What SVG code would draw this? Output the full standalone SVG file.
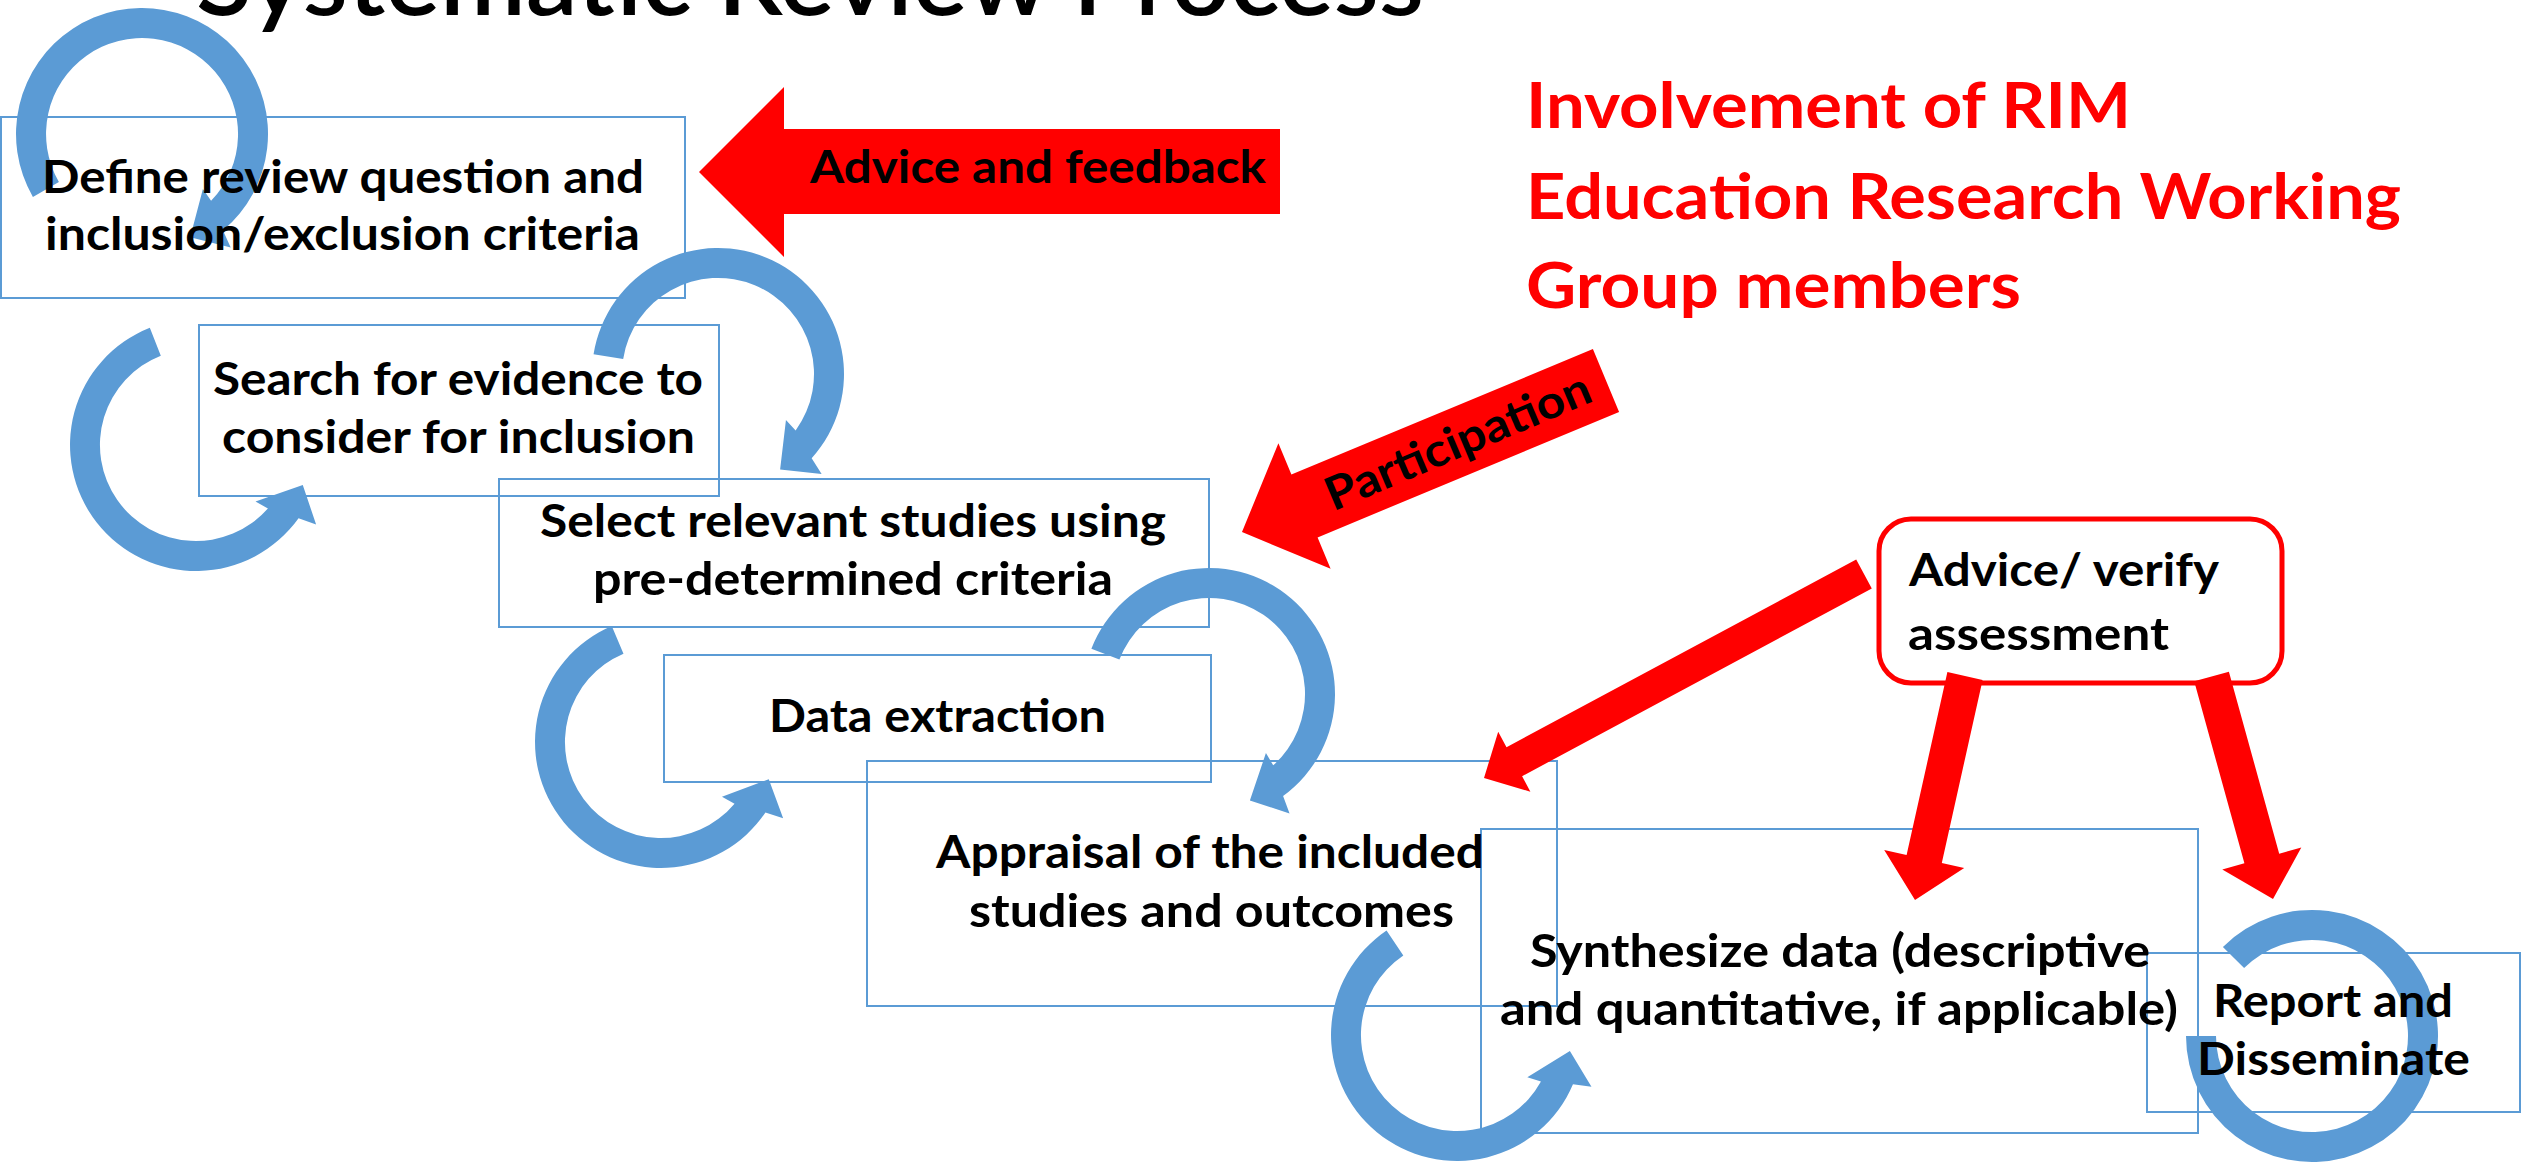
<svg xmlns="http://www.w3.org/2000/svg" width="2526" height="1162" viewBox="0 0 2526 1162">
  <style>
    .box { fill: none; stroke: #5B9BD5; stroke-width: 2; }
    .loop { fill: #5B9BD5; }
    .red { fill: #FF0000; }
    .lbl { font-family: Lato, "Open Sans", "Liberation Sans", sans-serif; font-weight: 700; font-size: 46px; fill: #000; }
    .note { font-family: Lato, "Open Sans", "Liberation Sans", sans-serif; font-weight: 700; font-size: 64px; fill: #FF0000; }
    .title { font-family: Lato, "Open Sans", "Liberation Sans", sans-serif; font-weight: 600; font-size: 100px; fill: #000; }
  </style>
  <defs>
    <!-- circular arrow: ring r 96..126 swept clockwise 210 deg from angle 0, head at the end -->
    <path id="loop" d="M126,0 A126,126 0 1,1 -105.7,-68.6 L-118,-82.6 L-76.3,-84.7 L-74.3,-34.7 L-85.5,-43.6 A96,96 0 1,0 96,0 Z"/>
  </defs>
  <rect width="2526" height="1162" fill="#fff"/>

  <!-- process step boxes (outline only) -->
  <g id="step-define"><rect class="box" x="1" y="117" width="684" height="181"/></g>
  <g id="step-search"><rect class="box" x="199" y="325" width="520" height="171"/></g>
  <g id="step-select"><rect class="box" x="499" y="479" width="710" height="148"/></g>
  <g id="step-extract"><rect class="box" x="664" y="655" width="547" height="127"/></g>
  <g id="step-appraise"><rect class="box" x="867" y="761" width="690" height="245"/></g>
  <g id="step-synthesize"><rect class="box" x="1481" y="829" width="717" height="304"/></g>
  <g id="step-report"><rect class="box" x="2147" y="953" width="373" height="159"/></g>

  <!-- advice / verify box -->
  <g id="advice-verify">
    <rect x="1879" y="519" width="403" height="164" rx="32" fill="#fff" stroke="#FF0000" stroke-width="5"/>
  </g>

  <g id="connectors">
    <!-- iteration loops -->
    <path class="loop" d="M32.9,197 A126,126 0 1,1 223,230.5 L230.7,247.5 L190.2,237.3 L202.9,188.9 L211.1,200.7 A96,96 0 1,0 58.9,182 Z"/>
    <use href="#loop" class="loop" transform="translate(718,374) rotate(189)"/>
    <use href="#loop" class="loop" transform="translate(196,445) rotate(248.5) scale(1,-1)"/>
    <use href="#loop" class="loop" transform="translate(661,742) rotate(247) scale(1,-1)"/>
    <use href="#loop" class="loop" transform="translate(1209,694) rotate(201)"/>
    <use href="#loop" class="loop" transform="translate(1457,1035) rotate(236) scale(1,-1)"/>
    <path class="loop" d="M2222.9,946.9 A126,126 0 1,1 2186,1036 L2216,1036 A96,96 0 1,0 2244.1,968.1 Z"/>

    <!-- red block arrows -->
    <polygon class="red" points="699,172 784,87 784,129 1280,129 1280,214 784,214 784,257"/>
    <polygon class="red" points="1592.9,349.1 1619.1,411.9 1317.6,537.4 1330.6,568.8 1242,532 1278.4,443.2 1291.4,474.6"/>
    <polygon class="red" points="1856.2,559.5 1871.8,588.5 1522.1,776.2 1530.4,791.7 1484,778 1498.2,731.7 1506.5,747.2"/>
    <polygon class="red" points="1947.4,672.1 1982.6,679.9 1941.8,862.9 1964.2,867.9 1915,900 1884.2,850.1 1906.6,855.1"/>
    <polygon class="red" points="2194.2,681.3 2228.9,671.7 2279.2,853.7 2301.3,847.6 2273,899 2222.3,869.4 2244.4,863.3"/>
  </g>

  <!-- labels -->
  <g id="title">
    <text class="title" x="196" y="15" textLength="1228" lengthAdjust="spacingAndGlyphs">Systematic Review Process</text>
  </g>
  <g id="involvement">
    <text class="note" x="1526" y="128" textLength="605" lengthAdjust="spacingAndGlyphs">Involvement of RIM</text>
    <text class="note" x="1526" y="219" textLength="875" lengthAdjust="spacingAndGlyphs">Education Research Working</text>
    <text class="note" x="1526" y="308" textLength="495" lengthAdjust="spacingAndGlyphs">Group members</text>
  </g>
  <g id="labels">
    <text class="lbl" x="42" y="193" textLength="602" lengthAdjust="spacingAndGlyphs">Define review question and</text>
    <text class="lbl" x="45" y="250" textLength="595" lengthAdjust="spacingAndGlyphs">inclusion/exclusion criteria</text>
    <text class="lbl" x="213" y="395" textLength="490" lengthAdjust="spacingAndGlyphs">Search for evidence to</text>
    <text class="lbl" x="222" y="453" textLength="473" lengthAdjust="spacingAndGlyphs">consider for inclusion</text>
    <text class="lbl" x="540" y="537" textLength="626" lengthAdjust="spacingAndGlyphs">Select relevant studies using</text>
    <text class="lbl" x="593" y="595" textLength="520" lengthAdjust="spacingAndGlyphs">pre-determined criteria</text>
    <text class="lbl" x="769" y="732" textLength="337" lengthAdjust="spacingAndGlyphs">Data extraction</text>
    <text class="lbl" x="936" y="868" textLength="548" lengthAdjust="spacingAndGlyphs">Appraisal of the included</text>
    <text class="lbl" x="969" y="927" textLength="485" lengthAdjust="spacingAndGlyphs">studies and outcomes</text>
    <text class="lbl" x="1530" y="967" textLength="620" lengthAdjust="spacingAndGlyphs">Synthesize data (descriptive</text>
    <text class="lbl" x="1500" y="1025" textLength="678" lengthAdjust="spacingAndGlyphs">and quantitative, if applicable)</text>
    <text class="lbl" x="2213" y="1017" textLength="240" lengthAdjust="spacingAndGlyphs">Report and</text>
    <text class="lbl" x="2197" y="1075" textLength="273" lengthAdjust="spacingAndGlyphs">Disseminate</text>
    <text class="lbl" x="1909" y="586" textLength="310" lengthAdjust="spacingAndGlyphs">Advice/ verify</text>
    <text class="lbl" x="1908" y="650" textLength="261" lengthAdjust="spacingAndGlyphs">assessment</text>
    <text class="lbl" x="810" y="183" font-size="48" textLength="456" lengthAdjust="spacingAndGlyphs">Advice and feedback</text>
    <text class="lbl" x="0" y="0" text-anchor="middle" font-size="48" textLength="284" lengthAdjust="spacingAndGlyphs" transform="translate(1464,456) rotate(-23)">Participation</text>
  </g>
</svg>
